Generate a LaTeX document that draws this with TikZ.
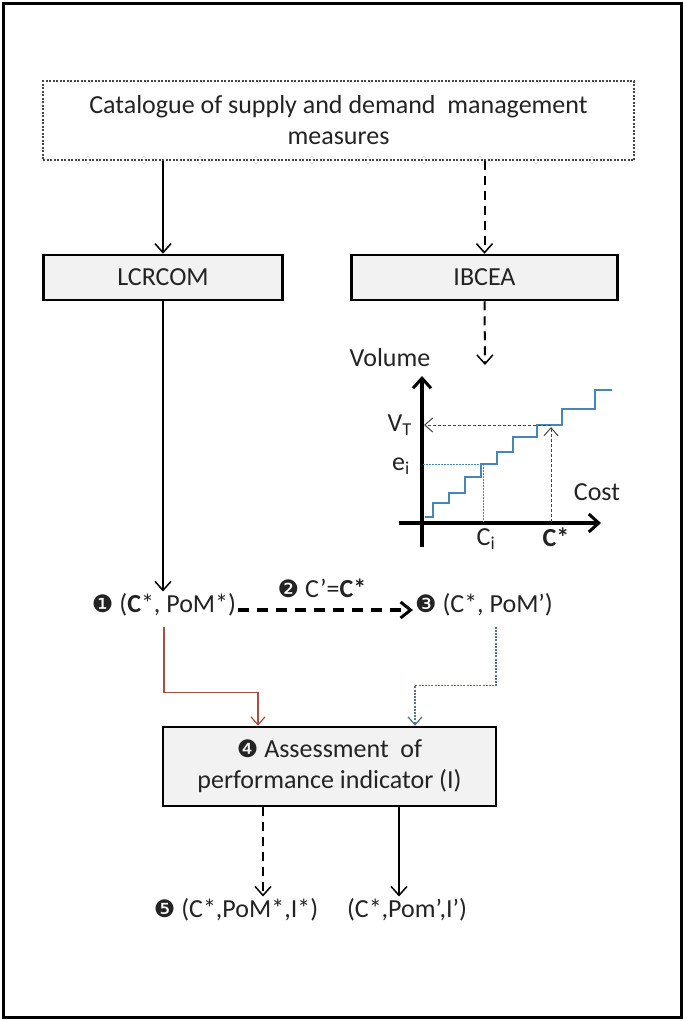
\documentclass[tikz,border=0pt]{standalone}
\usepackage{fontspec}
\setmainfont{Carlito}
\newfontfamily\dingfont{DejaVu Sans}
\usetikzlibrary{arrows.meta,positioning}
\definecolor{boxgray}{RGB}{242,242,242}
\definecolor{textgray}{RGB}{35,35,35}
\definecolor{catgray}{RGB}{70,70,70}
\definecolor{stairblue}{RGB}{70,135,185}
\definecolor{linered}{RGB}{165,80,65}
\definecolor{lineblue}{RGB}{85,115,140}
\newcommand{\dg}[1]{{\dingfont\fontsize{24}{24}\selectfont #1}}

\begin{document}
\begin{tikzpicture}[x=1pt, y=-1pt,
  font=\fontsize{26}{31}\selectfont, text=textgray,
  box/.style={rectangle, draw=black, line width=2.5pt, fill=boxgray,
    minimum width=239pt, minimum height=45pt, inner sep=0pt},
  catbox/.style={rectangle, draw=catgray, line width=1.5pt, dash pattern=on 2pt off 1.5pt,
    fill=white, minimum width=591pt, minimum height=79pt, inner sep=0pt, align=center},
  bigbox/.style={box, minimum width=333pt, minimum height=79pt, align=center},
  lbl/.style={inner sep=2pt},
  arr/.style={-{Straight Barb[length=9pt,width=16pt,line width=1.5pt]}, line width=2pt},
  dasharr/.style={arr, dash pattern=on 9pt off 6pt},
  pairarr/.style={-{Straight Barb[length=10pt,width=16pt,line width=3pt]}, line width=3.5pt,
    dash pattern=on 11pt off 8pt},
  redln/.style={-{Straight Barb[length=8pt,width=14pt,line width=1.2pt]}, line width=1.2pt, draw=linered},
  blueln/.style={-{Straight Barb[length=8pt,width=14pt,line width=1.2pt]}, line width=1.4pt,
    draw=lineblue, dash pattern=on 2pt off 1.2pt},
  axis/.style={-{Straight Barb[length=10pt,width=18pt,line width=3pt]}, line width=3.5pt},
  stair/.style={draw=stairblue, line width=1.3pt},
  guide/.style={draw=stairblue, line width=1pt, dash pattern=on 1.5pt off 1.5pt},
  helparr/.style={-{Straight Barb[length=8pt,width=14pt,line width=1pt]}, line width=1pt,
    draw=catgray, dash pattern=on 3pt off 2pt}
]
\useasboundingbox (0,0) rectangle (685,1021);
\draw[line width=3pt] (3.5,3.5) rectangle (681.5,1017.5);

% catalogue and the two methods
\node[catbox] (cat) at (338.5,120.5) {Catalogue of supply and demand \ management\\measures};
\node[box, below right=93pt and 0pt of cat.south west] (lcr) {LCRCOM};
\node[box, below left=93pt and 16pt of cat.south east, minimum width=266pt] (ibcea) {IBCEA};

\draw[arr] (lcr.north |- cat.south) -- (lcr.north);
\draw[dasharr] (ibcea.north |- cat.south) -- (ibcea.north);

% cost-volume chart
\coordinate (chtop) at (485,365);
\draw[dasharr] (ibcea.south) -- (chtop);
\draw[axis] (422,547) -- (422,376);
\draw[axis] (399,523) -- (601,523);
\draw[stair] (425,517) -- (433,517) -- (433,503) -- (449,503) -- (449,493) -- (465,493)
  -- (465,477) -- (481,477) -- (481,464) -- (497,464) -- (497,452) -- (513,452)
  -- (513,437) -- (537,437) -- (537,425) -- (562,425) -- (562,409) -- (595,409)
  -- (595,390) -- (612,390);
\draw[guide] (423,464) -- (481,464);
\draw[guide] (483,464) -- (483,522);
\draw[helparr] (551,425) -- (424,425);
\draw[helparr] (551,522) -- (551,427);
\node[lbl] (vol) at (390,358) {Volume};
\node[lbl, anchor=east] (vt) at (414,425) {V\textsubscript{T}};
\node[lbl, anchor=east] (ei) at (412,466) {e\textsubscript{i}};
\node[lbl, anchor=north] (ci) at (486,526) {C\textsubscript{i}};
\node[lbl, anchor=north] (cs) at (556,526) {\textbf{C*}};
\node[lbl] (cost) at (597,492) {Cost};

% optimal pairs
\node[lbl] (p1) at (164,605) {\dg{❶} (\textbf{C}*, PoM*)};
\node[lbl] (p3) at (484,605) {\dg{❸} (C*, PoM’)};
\node[lbl] (p2) at (322,588) {\dg{❷} C’=\textbf{C*}};
\draw[arr] (lcr.south) -- (lcr.south |- p1.north);
\draw[pairarr] ([yshift=-5pt]p1.east) -- ([yshift=-5pt]p3.west);

% assessment
\node[bigbox] (assess) at (329.5,766.5) {\dg{❹} Assessment \ of\\performance indicator (I)};
\coordinate (rin) at ([xshift=-71.5pt]assess.north);
\coordinate (bin) at ([xshift=85.5pt]assess.north);
\draw[redln] ([yshift=-8pt]p1.south) -- ++(0,66) -| (rin);
\draw[blueln] ([shift={(12pt,-8pt)}]p3.south) -- ++(0,59) -| (bin);

\node[lbl] (r1) at (236,910) {\dg{❺} (C*,PoM*,I*)};
\node[lbl] (r2) at (407,910) {(C*,Pom’,I’)};
\coordinate (o1) at ([xshift=-66.5pt]assess.south);
\coordinate (o2) at ([xshift=69.5pt]assess.south);
\draw[dasharr] (o1) -- (o1 |- r1.north);
\draw[arr] (o2) -- (o2 |- r2.north);
\end{tikzpicture}
\end{document}
